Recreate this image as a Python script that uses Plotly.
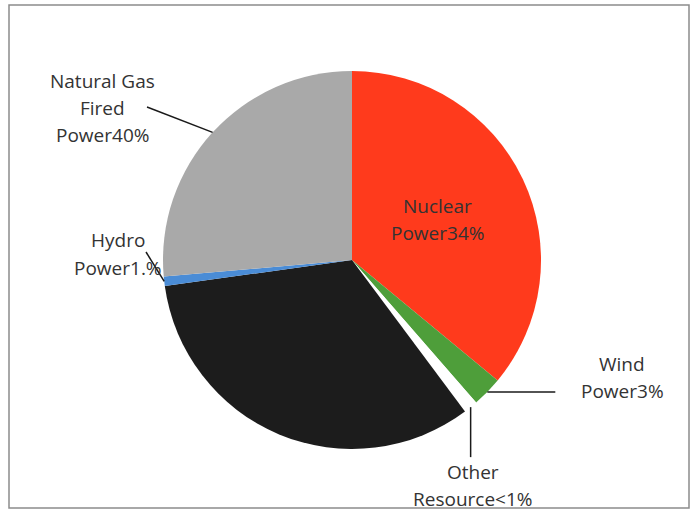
import math
import plotly.graph_objects as go

# ---- data (clockwise from 12 o'clock) ----
categories = ["Nuclear Power", "Wind Power", "Other Resource", "Coal Fired Power",
              "Hydro Power", "Natural Gas Fired Power"]
values = [36.0, 2.6, 1.2, 33.0, 0.8, 26.4]
label_texts = ["Nuclear<br>Power34%", "Wind<br>Power3%", "Other<br>Resource<1%", "",
               "Hydro<br>Power1.%", "Natural Gas<br>Fired<br>Power40%"]
colors = ["#FF3A1C", "#4E9E3A", "#FFFFFF", "#1C1C1C", "#4A8CD6", "#A9A9A9"]

# ---- layout geometry (pixels) ----
W, H = 695, 511
CX, CY, R = 352, 260, 189
FONT = dict(family="Open Sans, Lato, sans-serif", size=19, color="#333333")
LINE_GAP = 27


def px(x):
    return x / W


def py(y):
    return 1 - y / H


fig = go.Figure(go.Pie(
    labels=categories, values=values, sort=False, direction="clockwise",
    rotation=0, marker=dict(colors=colors, line=dict(width=0)),
    textinfo="none", showlegend=False, hole=0,
    domain=dict(x=[px(CX - R), px(CX + R)], y=[py(CY + R), py(CY - R)]),
))

# slice mid angles (degrees clockwise from 12 o'clock)
total = sum(values)
mids = []
acc = 0.0
for v in values:
    mids.append((acc + v / 2) / total * 360)
    acc += v


def rim(i, frac=1.0):
    a = math.radians(mids[i])
    return CX + frac * R * math.sin(a), CY - frac * R * math.cos(a)


shapes = [dict(type="rect", xref="paper", yref="paper",
               x0=px(9), x1=px(689), y0=py(508), y1=py(5),
               line=dict(color="#8C8C8C", width=1.5))]
annotations = []


def add_text(cx, cy, text):
    lines = text.split("<br>")
    n = len(lines)
    for k, t in enumerate(lines):
        yy = cy + (k - (n - 1) / 2) * LINE_GAP
        annotations.append(dict(x=px(cx), y=py(yy), xref="paper", yref="paper",
                                text=t, showarrow=False, xanchor="center",
                                yanchor="middle", font=FONT))


def leader(i, ex, ey):
    x0, y0 = rim(i)
    shapes.append(dict(type="line", xref="paper", yref="paper",
                       x0=px(x0), y0=py(y0), x1=px(ex), y1=py(ey),
                       line=dict(color="#1A1A1A", width=1.5)))


# Nuclear label inside slice
nx, ny = rim(0, 0.5)
add_text(nx, ny, label_texts[0])
# Wind
wx, wy = rim(1)
leader(1, wx + 68, wy)
add_text(622, 377, label_texts[1])
# Other
ox, oy = rim(2)
leader(2, ox, oy + 50)
add_text(473, 485, label_texts[2])
# Hydro
leader(4, 146, 252)
add_text(118, 254, label_texts[4])
# Natural gas
leader(5, 147, 107)
add_text(102, 108, label_texts[5])

fig.update_layout(width=W, height=H, margin=dict(l=0, r=0, t=0, b=0),
                  paper_bgcolor="white", plot_bgcolor="white",
                  shapes=shapes, annotations=annotations)
fig.write_html("out.html", config={"displayModeBar": False},
               post_script="document.body.style.margin='0';")
